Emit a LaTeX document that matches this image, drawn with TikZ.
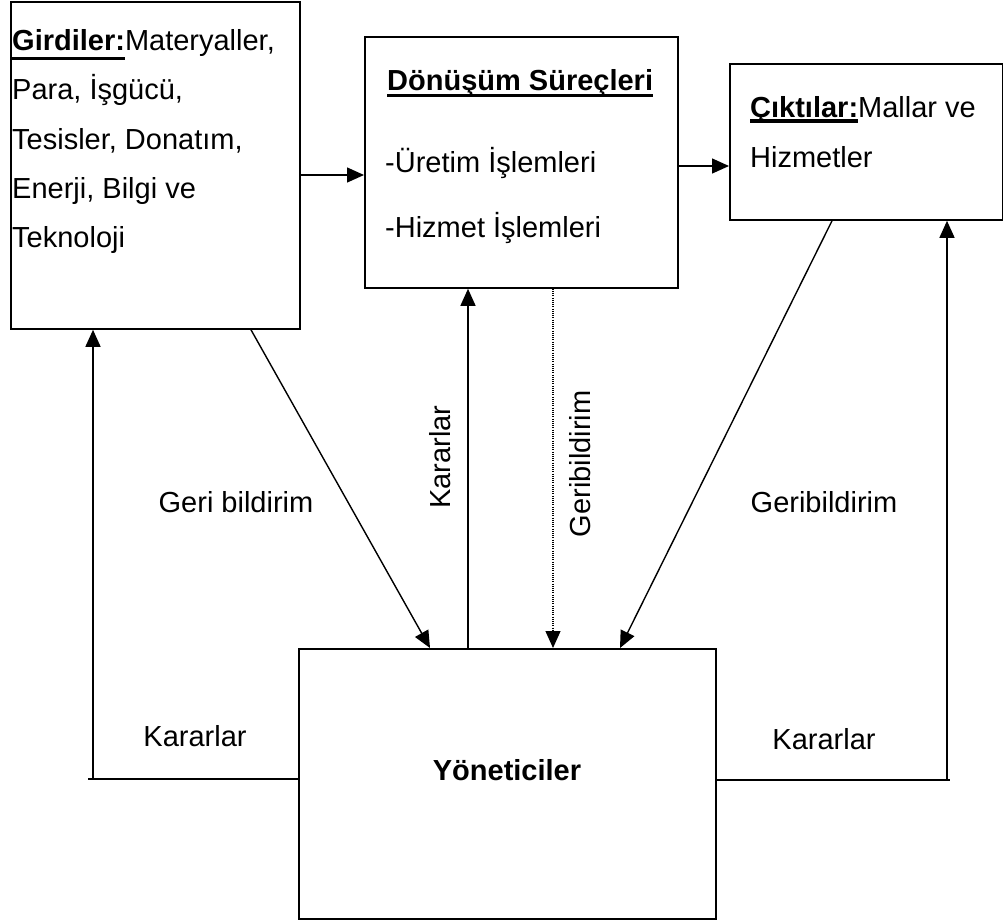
\documentclass[tikz,border=0pt]{standalone}
\usepackage{fontspec}
\setmainfont{Liberation Sans}
\usetikzlibrary{arrows.meta}
\newsavebox\ulbox
\newcommand\ulbar[2]{\sbox\ulbox{#2}\rlap{\rule[#1]{\wd\ulbox}{3.5pt}}\usebox\ulbox}
\begin{document}
\begin{tikzpicture}[x=1pt,y=-1pt,
  box/.style={draw,line width=1.8pt,inner sep=0pt,anchor=north west},
  txt/.style={inner sep=0pt,font=\fontsize{29}{39}\selectfont},
  arr/.style={line width=1.4pt,-{Triangle[length=17pt,width=15pt]}},
  plain/.style={line width=1.4pt},
  dots/.style={line width=1.2pt,dash pattern=on 1pt off 1.2pt,-{Triangle[length=17pt,width=15pt]}}]
\useasboundingbox (0,0) rectangle (1003,921);
\fill[white] (0,0) rectangle (1003,921);
% boxes
\node[box,minimum width=289pt,minimum height=327pt] (G) at (10,1) {};
\node[box,minimum width=313pt,minimum height=251pt] (D) at (364,36) {};
\node[box,minimum width=273pt,minimum height=156pt] (C) at (729,63) {};
\node[box,minimum width=417pt,minimum height=270pt] (Y) at (298,648) {};
% Girdiler text
\node[txt,anchor=base west] (g1) at (12,50) {\ulbar{-10pt}{\bfseries Girdiler:}Materyaller,};
\node[txt,anchor=base west] (g2) at (12,99) {Para, İşgücü,};
\node[txt,anchor=base west] (g3) at (12,149) {Tesisler, Donatım,};
\node[txt,anchor=base west] (g4) at (12,198) {Enerji, Bilgi ve};
\node[txt,anchor=base west] (g5) at (12,247) {Teknoloji};
% Dönüşüm text
\node[txt,anchor=base west] (d1) at (387,90) {\ulbar{-7pt}{\bfseries Dönüşüm Süreçleri}};
\node[txt,anchor=base west] (d2) at (385,172) {-Üretim İşlemleri};
\node[txt,anchor=base west] (d3) at (385,237) {-Hizmet İşlemleri};
% Çıktılar text
\node[txt,anchor=base west] (c1) at (750,117) {\ulbar{-5.5pt}{\bfseries Çıktılar:}Mallar ve};
\node[txt,anchor=base west] (c2) at (750,167) {Hizmetler};
% Yöneticiler
\node[txt,anchor=base] (y1) at (507,780) {\bfseries Yöneticiler};
% labels
\node[txt,anchor=base] (l1) at (236,512) {Geri bildirim};
\node[txt,anchor=base] (l2) at (824,512) {Geribildirim};
\node[txt,anchor=base] (l3) at (195,746) {Kararlar};
\node[txt,anchor=base] (l4) at (824,749) {Kararlar};
\node[txt,anchor=base,rotate=90] (l5) at (450,457) {Kararlar};
\node[txt,anchor=base,rotate=90] (l6) at (590,464) {Geribildirim};
% connectors
\draw[arr] (G.east |- 0,175) -- (D.west |- 0,175);
\draw[arr] (D.east |- 0,166) -- (C.west |- 0,166);
\draw[arr] ([xshift=241pt]G.south west) -- ([xshift=132pt]Y.north west);
\draw[arr] ([xshift=170pt]Y.north west) -- ([xshift=104pt]D.south west);
\draw[dots] ([xshift=189pt]D.south west) -- ([xshift=255pt]Y.north west);
\draw[arr] ([xshift=103pt]C.south west) -- ([xshift=322pt]Y.north west);
\coordinate (lc) at (93,779);
\coordinate (rc) at (947,780);
\draw[plain] (Y.west |- lc) -- ([xshift=-5pt]lc);
\draw[arr] (lc) -- (lc |- G.south);
\draw[plain] (Y.east |- rc) -- ([xshift=3pt]rc);
\draw[arr] (rc) -- (rc |- C.south);
\end{tikzpicture}
\end{document}
